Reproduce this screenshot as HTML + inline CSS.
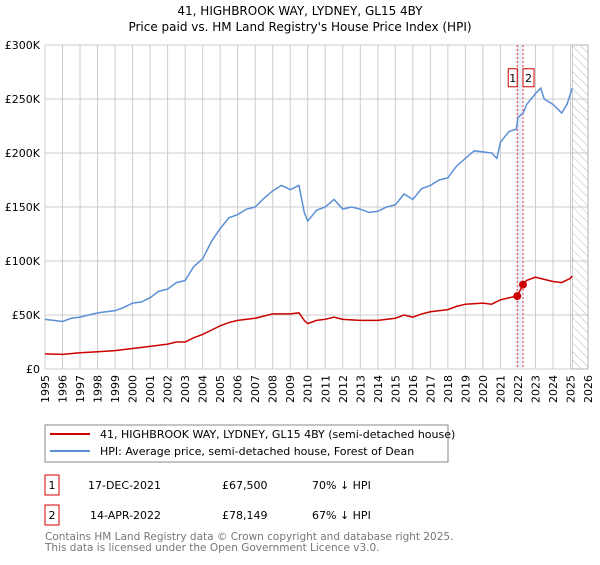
<!DOCTYPE html>
<html><head><meta charset="utf-8"><style>
body{margin:0;background:#fff;font-family:"Liberation Sans","DejaVu Sans",sans-serif;}
</style></head><body>
<svg width="600" height="560" xmlns="http://www.w3.org/2000/svg" font-family="DejaVu Sans, Liberation Sans, sans-serif">
<defs><pattern id="hatch" width="6" height="6" patternUnits="userSpaceOnUse" patternTransform="rotate(-45)"><line x1="0" y1="0" x2="0" y2="6" stroke="#bbb" stroke-width="1"/></pattern></defs>
<text x="300" y="15" text-anchor="middle" font-size="12">41, HIGHBROOK WAY, LYDNEY, GL15 4BY</text>
<text x="300" y="31" text-anchor="middle" font-size="12">Price paid vs. HM Land Registry's House Price Index (HPI)</text>
<g id="grid"></g><g id="axes"></g><g id="marks"></g>
<rect x="45" y="425" width="403" height="37" fill="#fff" stroke="#888"/>
<line x1="50" y1="434" x2="90" y2="434" stroke="#cc0000" stroke-width="2"/>
<text x="100" y="438" font-size="11">41, HIGHBROOK WAY, LYDNEY, GL15 4BY (semi-detached house)</text>
<line x1="50" y1="451" x2="90" y2="451" stroke="#5b8fd6" stroke-width="2"/>
<text x="100" y="455" font-size="11">HPI: Average price, semi-detached house, Forest of Dean</text>
<g font-size="11">
<rect x="45" y="475" width="14" height="20" fill="none" stroke="#cc0000"/><text x="52" y="489" text-anchor="middle">1</text>
<text x="88" y="489">17-DEC-2021</text><text x="222" y="489">£67,500</text><text x="312" y="489">70% ↓ HPI</text>
<rect x="45" y="505" width="14" height="20" fill="none" stroke="#cc0000"/><text x="52" y="519" text-anchor="middle">2</text>
<text x="90" y="519">14-APR-2022</text><text x="222" y="519">£78,149</text><text x="312" y="519">67% ↓ HPI</text>
</g>
<text x="45" y="540" font-size="10.5" fill="#777">Contains HM Land Registry data © Crown copyright and database right 2025.</text>
<text x="45" y="551" font-size="10.5" fill="#777">This data is licensed under the Open Government Licence v3.0.</text>
</svg>
<script>
const yTicks=[0,50,100,150,200,250,300];
const yTickLabels=["£0","£50K","£100K","£150K","£200K","£250K","£300K"];
const xYears=[1995,1996,1997,1998,1999,2000,2001,2002,2003,2004,2005,2006,2007,2008,2009,2010,2011,2012,2013,2014,2015,2016,2017,2018,2019,2020,2021,2022,2023,2024,2025,2026];
const hpiT=[1995,1995.5,1996,1996.5,1997,1997.5,1998,1998.5,1999,1999.5,2000,2000.5,2001,2001.5,2002,2002.5,2003,2003.5,2004,2004.5,2005,2005.5,2006,2006.5,2007,2007.5,2008,2008.5,2009,2009.5,2009.8,2010,2010.5,2011,2011.5,2012,2012.5,2013,2013.5,2014,2014.5,2015,2015.5,2016,2016.5,2017,2017.5,2018,2018.5,2019,2019.5,2020,2020.5,2020.8,2021,2021.5,2021.9,2022,2022.3,2022.5,2023,2023.3,2023.5,2024,2024.5,2024.8,2025,2025.1];
const hpiV=[46,45,44,47,48,50,52,53,54,57,61,62,66,72,74,80,82,95,102,118,130,140,143,148,150,158,165,170,166,170,145,137,147,150,157,148,150,148,145,146,150,152,162,157,167,170,175,177,188,195,202,201,200,195,210,220,222,233,237,245,255,260,250,245,237,245,255,260];
const priceT=[1995,1996,1997,1998,1999,2000,2001,2002,2002.5,2003,2003.5,2004,2004.5,2005,2005.5,2006,2007,2008,2009,2009.5,2009.8,2010,2010.5,2011,2011.5,2012,2013,2014,2015,2015.5,2016,2016.5,2017,2018,2018.5,2019,2020,2020.5,2021,2021.5,2021.96,2022.29,2022.5,2023,2023.5,2024,2024.5,2025,2025.1];
const priceV=[14,13.5,15,16,17,19,21,23,25,25,29,32,36,40,43,45,47,51,51,52,45,42,45,46,48,46,45,45,47,50,48,51,53,55,58,60,61,60,64,66,67.5,78.1,82,85,83,81,80,84,86];
const saleLabels=["1","2"];
const saleT=[2021.96,2022.29];
const saleV=[67.5,78.149];
const X=t=>45+(t-1995)*(543/31);
const Y=v=>369-v*1.08;
const NS="http://www.w3.org/2000/svg";
function mk(tag,attrs,parent,text){const e=document.createElementNS(NS,tag);for(const k in attrs)e.setAttribute(k,attrs[k]);if(text!==undefined)e.textContent=text;parent.appendChild(e);return e;}
const grid=document.getElementById('grid'),axes=document.getElementById('axes'),marks=document.getElementById('marks');
xYears.forEach(y=>{const l=mk('line',{x1:X(y),x2:X(y),y1:Y(300),y2:Y(0),stroke:'#ccc'},grid);


const t=mk('text',{x:X(y)+4,y:375,'font-size':11,transform:`rotate(-90 ${X(y)+4} 375)`,'text-anchor':'end'},axes,String(y));

});
yTicks.forEach((v,i)=>{const l=mk('line',{x1:X(1995),x2:X(2026),y1:Y(v),y2:Y(v),stroke:'#ccc'},grid);


const t=mk('text',{x:40,y:Y(v)+4,'font-size':11,'text-anchor':'end'},axes,yTickLabels[i]);

});
const h=mk('rect',{x:X(2025.1),y:Y(300),width:X(2026)-X(2025.1),height:Y(0)-Y(300),fill:'url(#hatch)',stroke:'#999','stroke-width':0.5},grid);


const band=mk('rect',{x:X(saleT[0]),y:Y(300),width:X(saleT[1])-X(saleT[0]),height:Y(0)-Y(300),fill:'#dde8f8',opacity:0.6},grid);


saleT.forEach((t,i)=>{const l=mk('line',{x1:X(t),x2:X(t),y1:Y(300),y2:Y(0),stroke:'#ee3333','stroke-dasharray':'2,2'},grid);

});
const hp=mk('polyline',{points:hpiT.map((t,i)=>X(t)+','+Y(hpiV[i])).join(' '),fill:'none',stroke:'#5b8fd6','stroke-width':1.5},marks);


const pp=mk('polyline',{points:priceT.map((t,i)=>X(t)+','+Y(priceV[i])).join(' '),fill:'none',stroke:'#cc0000','stroke-width':1.5},marks);


saleT.forEach((t,i)=>{const c=mk('circle',{cx:X(t),cy:Y(saleV[i]),r:4,fill:'#cc0000'},marks);


const bx=X(t)-(i===0?9:0);
const r=mk('rect',{x:bx,y:Y(278),width:i===0?9:11,height:18,fill:'#fff',stroke:'#cc0000'},marks);


const tx=mk('text',{x:bx+(i===0?4.5:5.5),y:Y(278)+13,'font-size':11,'text-anchor':'middle'},marks,saleLabels[i]);

});
</script>
</body></html>
